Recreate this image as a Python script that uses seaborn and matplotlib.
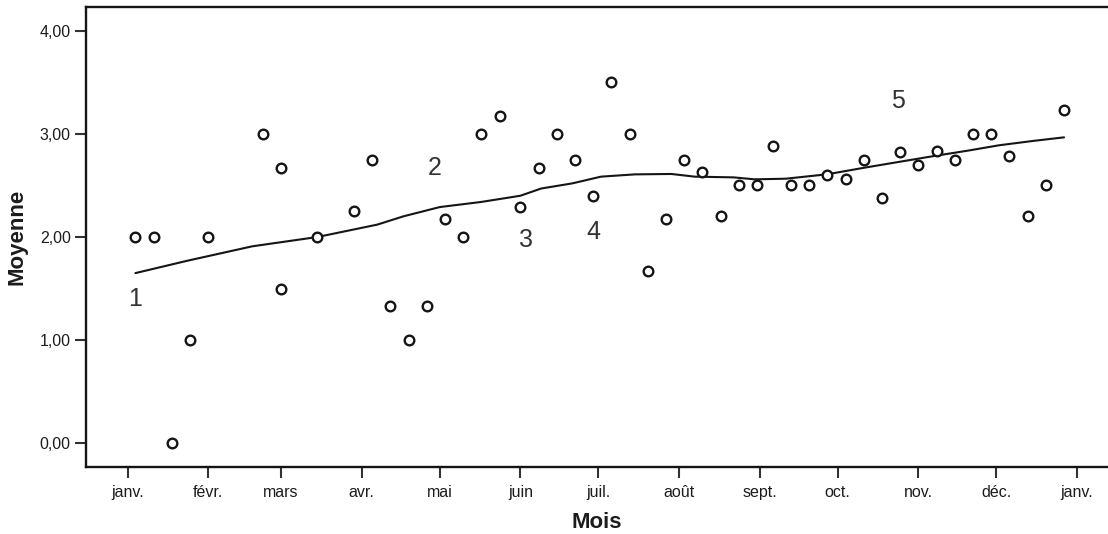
import matplotlib
matplotlib.use("Agg")
import matplotlib.pyplot as plt
import numpy as np
import pandas as pd
import seaborn as sns
from matplotlib.ticker import FixedLocator, FuncFormatter

# Weekly means: day of the year and mean value
jours = [3, 10, 17, 24, 31, 52, 59, 59, 73, 87, 94, 101, 108, 115, 122, 129, 136, 143,
         151, 158, 165, 172, 179, 186, 193, 200, 207, 214, 221, 228, 235, 242,
         248, 255, 262, 269, 276, 283, 290, 297, 304, 311, 318, 325, 332, 339, 346, 353, 360]
moyennes = [2.0, 2.0, 0.0, 1.0, 2.0, 3.0, 2.67, 1.5, 2.0, 2.25, 2.75, 1.33, 1.0, 1.33, 2.17, 2.0, 3.0, 3.17,
            2.29, 2.67, 3.0, 2.75, 2.4, 3.5, 3.0, 1.67, 2.17, 2.75, 2.63, 2.2, 2.5, 2.5,
            2.88, 2.5, 2.5, 2.6, 2.56, 2.75, 2.38, 2.82, 2.7, 2.83, 2.75, 3.0, 3.0, 2.79, 2.2, 2.5, 3.23]

# Smoothed (loess) curve
lissage_jours = [3, 23, 48, 73, 96, 106, 120, 136, 151, 159, 171, 182, 195, 209, 218,
                 233, 241, 253, 266, 271, 284, 297, 310, 323, 335, 348, 360]
lissage_val = [1.65, 1.77, 1.91, 2.0, 2.12, 2.2, 2.29, 2.34, 2.40, 2.47, 2.52, 2.585, 2.607, 2.611, 2.585,
               2.578, 2.559, 2.565, 2.60, 2.617, 2.675, 2.73, 2.785, 2.837, 2.889, 2.931, 2.966]

# Period markers
reperes = ["1", "2", "3", "4", "5"]
reperes_jours = [3, 118, 153, 179, 296]
reperes_val = [1.40, 2.67, 1.97, 2.05, 3.32]

# Month axis
mois_debut = [0, 31, 59, 90, 120, 151, 181, 212, 243, 273, 304, 334, 365]
mois_noms = ["janv.", "févr.", "mars", "avr.", "mai", "juin", "juil.", "août",
             "sept.", "oct.", "nov.", "déc.", "janv."]
y_ticks = [0, 1, 2, 3, 4]

sns.set_style("ticks")
plt.rcParams["font.family"] = ["Liberation Sans", "DejaVu Sans"]

points = pd.DataFrame({"Mois": jours, "Moyenne": moyennes})
courbe = pd.DataFrame({"Mois": lissage_jours, "Moyenne": lissage_val})

fig = plt.figure(figsize=(11.08, 5.34), dpi=100)
ax = fig.add_axes([0.0776, 0.126, 0.9224, 0.860])

sns.lineplot(data=courbe, x="Mois", y="Moyenne", ax=ax, color="#151515",
             linewidth=1.5, sort=False, estimator=None, zorder=2)
sns.scatterplot(data=points, x="Mois", y="Moyenne", ax=ax, marker="o", s=48,
                facecolor="white", edgecolor="#151515", linewidth=1.7, zorder=3)

for txt, xj, yv in zip(reperes, reperes_jours, reperes_val):
    ax.text(xj, yv, txt, ha="center", va="center", fontsize=18,
            color="#333333", zorder=4)

ax.set_xlim(-16.0, 376.9)
ax.set_ylim(-0.227, 4.225)
ax.xaxis.set_major_locator(FixedLocator(mois_debut))
ax.set_xticklabels(mois_noms)
ax.yaxis.set_major_locator(FixedLocator(y_ticks))
ax.yaxis.set_major_formatter(FuncFormatter(lambda v, _: f"{v:.2f}".replace(".", ",")))

for side in ["left", "bottom", "top"]:
    ax.spines[side].set_visible(True)
    ax.spines[side].set_linewidth(1.7)
    ax.spines[side].set_color("#151515")
ax.spines["right"].set_visible(False)

ax.tick_params(axis="both", direction="out", length=8, width=1.5,
               color="#333333", labelsize=11.5, labelcolor="#1c1c1c")
ax.tick_params(axis="x", pad=5)
ax.tick_params(axis="y", pad=3)

ax.set_xlabel("Mois", fontsize=16, fontweight="bold", color="#1c1c1c", labelpad=9)
ax.set_ylabel("Moyenne", fontsize=16, fontweight="bold", color="#1c1c1c", labelpad=9)

fig.savefig("out.png", dpi=100, facecolor="white")
